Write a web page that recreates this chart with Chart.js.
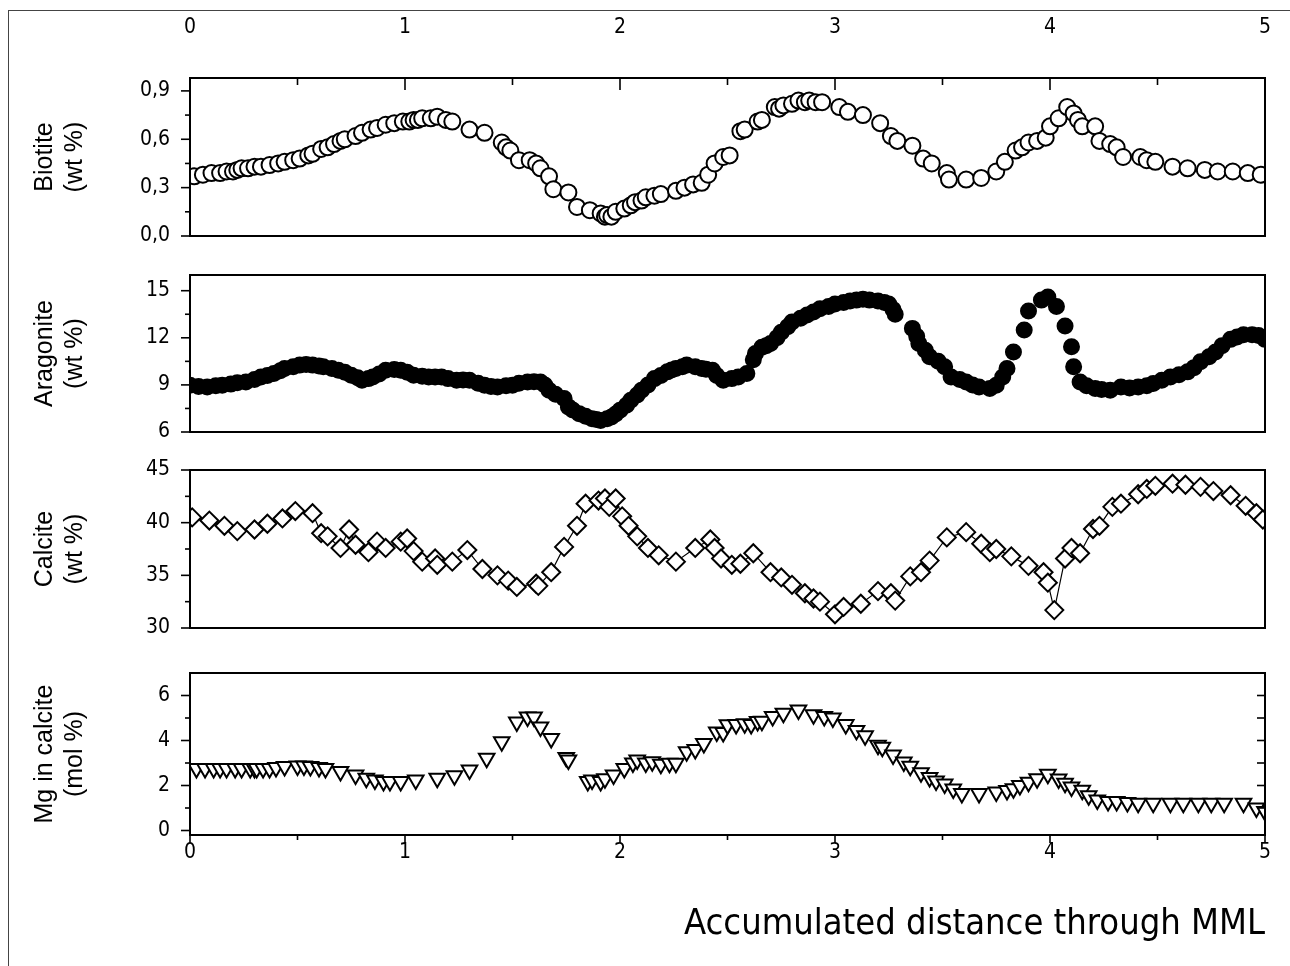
<!DOCTYPE html>
<html>
<head>
<meta charset="utf-8">
<script src="https://cdn.jsdelivr.net/npm/chart.js@4.4.1/dist/chart.umd.min.js"></script>
<style>
  body { margin: 0; background: #fff; }
  #wrap { position: relative; width: 1290px; height: 966px; overflow: hidden; }
  #wrap canvas { position: absolute; left: 0; }
  .outer { position: absolute; left: 8px; top: 10px; width: 1290px; height: 966px;
           border-left: 1.5px solid #444; border-top: 1.5px solid #444; }
</style>
</head>
<body>
<div id="wrap">
  <div class="outer"></div>
  <canvas id="c1" width="1290" height="250" style="top:0px"></canvas>
  <canvas id="c2" width="1290" height="200" style="top:250px"></canvas>
  <canvas id="c3" width="1290" height="195" style="top:450px"></canvas>
  <canvas id="c4" width="1290" height="316" style="top:650px"></canvas>
</div>
<script>
// x axis: accumulated distance
const xTicks = [0, 1, 2, 3, 4, 5];
const xMinor = [0.5, 1.5, 2.5, 3.5, 4.5];

// [distance, value] pairs
const biotite = [[0.02,0.37],[0.06,0.38],[0.10,0.39],[0.14,0.39],[0.17,0.40],[0.20,0.40],[0.22,0.41],[0.24,0.42],[0.27,0.42],[0.30,0.43],[0.33,0.43],[0.37,0.44],[0.41,0.45],[0.44,0.46],[0.48,0.47],[0.51,0.48],[0.55,0.50],[0.57,0.51],[0.61,0.54],[0.64,0.55],[0.67,0.57],[0.70,0.59],[0.72,0.60],[0.77,0.62],[0.80,0.64],[0.84,0.66],[0.87,0.67],[0.91,0.69],[0.95,0.70],[0.99,0.71],[1.02,0.71],[1.04,0.72],[1.06,0.72],[1.08,0.73],[1.12,0.73],[1.15,0.74],[1.19,0.72],[1.22,0.71],[1.30,0.66],[1.37,0.64],[1.45,0.58],[1.47,0.55],[1.49,0.53],[1.53,0.47],[1.58,0.47],[1.61,0.45],[1.63,0.42],[1.67,0.37],[1.69,0.29],[1.76,0.27],[1.80,0.18],[1.86,0.16],[1.91,0.14],[1.93,0.12],[1.94,0.13],[1.96,0.12],[1.98,0.15],[2.02,0.17],[2.05,0.19],[2.07,0.21],[2.10,0.22],[2.12,0.24],[2.16,0.25],[2.19,0.26],[2.26,0.28],[2.30,0.30],[2.34,0.32],[2.38,0.33],[2.41,0.38],[2.44,0.45],[2.48,0.49],[2.51,0.50],[2.56,0.65],[2.58,0.66],[2.64,0.71],[2.66,0.72],[2.72,0.80],[2.74,0.79],[2.76,0.81],[2.80,0.82],[2.83,0.84],[2.86,0.83],[2.88,0.84],[2.91,0.83],[2.94,0.83],[3.02,0.80],[3.06,0.77],[3.13,0.75],[3.21,0.70],[3.26,0.62],[3.29,0.59],[3.36,0.56],[3.41,0.48],[3.45,0.45],[3.52,0.39],[3.53,0.35],[3.61,0.35],[3.68,0.36],[3.75,0.40],[3.79,0.46],[3.84,0.53],[3.87,0.55],[3.90,0.58],[3.94,0.59],[3.98,0.61],[4.00,0.68],[4.04,0.73],[4.08,0.80],[4.11,0.76],[4.13,0.72],[4.15,0.68],[4.21,0.68],[4.23,0.59],[4.28,0.57],[4.31,0.55],[4.34,0.49],[4.42,0.49],[4.45,0.47],[4.49,0.46],[4.57,0.43],[4.64,0.42],[4.72,0.41],[4.78,0.40],[4.85,0.40],[4.92,0.39],[4.98,0.38]];

const aragonite = [[0.00,8.98],[0.04,8.90],[0.08,8.87],[0.12,8.95],[0.15,8.98],[0.19,9.05],[0.22,9.13],[0.26,9.19],[0.30,9.35],[0.33,9.50],[0.36,9.60],[0.39,9.72],[0.42,9.90],[0.44,10.04],[0.48,10.15],[0.51,10.26],[0.54,10.30],[0.57,10.26],[0.60,10.20],[0.62,10.15],[0.66,10.05],[0.69,9.94],[0.72,9.80],[0.75,9.62],[0.78,9.45],[0.80,9.30],[0.83,9.40],[0.85,9.50],[0.88,9.70],[0.91,9.94],[0.95,9.98],[0.98,9.94],[1.01,9.80],[1.04,9.62],[1.08,9.55],[1.11,9.50],[1.14,9.50],[1.17,9.50],[1.20,9.40],[1.24,9.30],[1.27,9.32],[1.30,9.30],[1.34,9.10],[1.37,8.98],[1.40,8.90],[1.43,8.87],[1.47,8.95],[1.50,8.98],[1.53,9.10],[1.57,9.19],[1.60,9.20],[1.63,9.19],[1.65,9.00],[1.67,8.66],[1.70,8.40],[1.74,8.13],[1.76,7.60],[1.78,7.40],[1.81,7.17],[1.84,7.00],[1.87,6.85],[1.89,6.80],[1.91,6.74],[1.94,6.85],[1.96,6.96],[1.98,7.15],[2.00,7.38],[2.03,7.70],[2.05,8.02],[2.08,8.35],[2.10,8.66],[2.13,9.00],[2.16,9.40],[2.19,9.60],[2.22,9.83],[2.24,9.95],[2.26,10.04],[2.29,10.15],[2.31,10.26],[2.35,10.15],[2.38,10.04],[2.40,10.00],[2.43,9.94],[2.45,9.60],[2.48,9.30],[2.52,9.40],[2.55,9.50],[2.59,9.72],[2.62,10.60],[2.63,11.00],[2.66,11.40],[2.68,11.50],[2.70,11.64],[2.73,12.00],[2.75,12.35],[2.78,12.70],[2.80,13.00],[2.84,13.25],[2.87,13.45],[2.90,13.65],[2.93,13.85],[2.97,14.00],[3.00,14.15],[3.04,14.25],[3.07,14.35],[3.10,14.40],[3.13,14.45],[3.16,14.40],[3.20,14.35],[3.23,14.25],[3.25,14.15],[3.27,13.80],[3.28,13.50],[3.36,12.60],[3.38,12.10],[3.39,11.64],[3.42,11.20],[3.44,10.79],[3.48,10.50],[3.51,10.15],[3.54,9.51],[3.58,9.35],[3.61,9.19],[3.64,9.00],[3.67,8.87],[3.72,8.77],[3.75,8.98],[3.78,9.50],[3.80,10.04],[3.83,11.10],[3.88,12.50],[3.90,13.70],[3.96,14.40],[3.99,14.60],[4.03,14.00],[4.07,12.75],[4.10,11.43],[4.11,10.15],[4.14,9.19],[4.17,8.95],[4.21,8.77],[4.24,8.70],[4.28,8.66],[4.33,8.87],[4.37,8.80],[4.41,8.87],[4.45,8.95],[4.48,9.09],[4.52,9.30],[4.56,9.51],[4.60,9.65],[4.64,9.83],[4.67,10.10],[4.70,10.47],[4.74,10.80],[4.77,11.10],[4.80,11.50],[4.84,11.90],[4.87,12.05],[4.90,12.20],[4.94,12.20],[4.97,12.15],[5.00,11.90]];

const calcite = [[0.01,40.5],[0.09,40.2],[0.16,39.7],[0.22,39.2],[0.30,39.35],[0.36,39.9],[0.43,40.4],[0.49,41.1],[0.57,40.9],[0.61,39.0],[0.64,38.7],[0.70,37.6],[0.74,39.35],[0.77,37.9],[0.83,37.2],[0.87,38.2],[0.91,37.6],[0.98,38.2],[1.01,38.5],[1.04,37.3],[1.08,36.3],[1.14,36.6],[1.15,36.0],[1.22,36.3],[1.29,37.4],[1.36,35.6],[1.43,35.0],[1.48,34.5],[1.52,33.9],[1.61,34.2],[1.62,34.0],[1.68,35.3],[1.74,37.7],[1.80,39.7],[1.84,41.8],[1.90,42.1],[1.93,42.3],[1.95,41.5],[1.98,42.3],[2.01,40.6],[2.04,39.7],[2.08,38.7],[2.13,37.6],[2.18,36.9],[2.26,36.3],[2.35,37.6],[2.42,38.4],[2.44,37.6],[2.47,36.6],[2.52,36.0],[2.56,36.1],[2.62,37.1],[2.70,35.3],[2.75,34.8],[2.80,34.1],[2.86,33.3],[2.90,32.8],[2.93,32.5],[3.00,31.3],[3.04,32.0],[3.12,32.3],[3.20,33.5],[3.26,33.3],[3.28,32.6],[3.35,34.9],[3.40,35.3],[3.44,36.4],[3.52,38.6],[3.61,39.1],[3.68,38.0],[3.72,37.2],[3.75,37.5],[3.82,36.8],[3.90,35.9],[3.97,35.3],[3.99,34.3],[4.02,31.7],[4.07,36.6],[4.10,37.6],[4.14,37.1],[4.20,39.4],[4.23,39.7],[4.29,41.5],[4.33,41.8],[4.41,42.7],[4.45,43.2],[4.49,43.5],[4.57,43.7],[4.63,43.6],[4.70,43.4],[4.76,43.0],[4.84,42.6],[4.91,41.6],[4.96,40.9],[4.99,40.3]];

const mgCalcite = [[0.03,2.76],[0.07,2.76],[0.11,2.76],[0.14,2.76],[0.17,2.76],[0.21,2.76],[0.24,2.76],[0.28,2.76],[0.30,2.76],[0.31,2.76],[0.34,2.76],[0.37,2.76],[0.40,2.80],[0.44,2.84],[0.50,2.87],[0.53,2.87],[0.56,2.84],[0.60,2.80],[0.63,2.76],[0.70,2.62],[0.77,2.47],[0.82,2.32],[0.86,2.25],[0.90,2.18],[0.93,2.18],[0.98,2.18],[1.05,2.25],[1.15,2.32],[1.23,2.43],[1.30,2.69],[1.38,3.21],[1.45,3.94],[1.52,4.82],[1.57,5.04],[1.60,5.04],[1.63,4.60],[1.68,4.09],[1.75,3.25],[1.76,3.13],[1.85,2.18],[1.87,2.25],[1.91,2.18],[1.93,2.30],[1.97,2.47],[2.02,2.76],[2.06,3.00],[2.08,3.13],[2.12,3.00],[2.15,3.06],[2.19,2.95],[2.23,2.99],[2.26,2.99],[2.31,3.50],[2.35,3.60],[2.39,3.87],[2.45,4.38],[2.48,4.36],[2.50,4.70],[2.54,4.71],[2.58,4.75],[2.61,4.71],[2.64,4.85],[2.66,4.86],[2.71,5.07],[2.76,5.21],[2.83,5.36],[2.90,5.14],[2.95,5.07],[2.99,5.00],[3.05,4.71],[3.10,4.45],[3.14,4.21],[3.20,3.79],[3.22,3.70],[3.27,3.36],[3.32,3.05],[3.35,2.86],[3.40,2.57],[3.44,2.36],[3.47,2.20],[3.51,2.07],[3.55,1.85],[3.59,1.64],[3.67,1.64],[3.75,1.71],[3.80,1.78],[3.83,1.86],[3.86,2.00],[3.90,2.14],[3.94,2.30],[3.99,2.50],[4.04,2.29],[4.07,2.10],[4.10,1.93],[4.15,1.79],[4.18,1.55],[4.22,1.36],[4.27,1.29],[4.31,1.29],[4.36,1.25],[4.41,1.21],[4.48,1.21],[4.56,1.21],[4.62,1.21],[4.69,1.21],[4.75,1.21],[4.81,1.21],[4.90,1.21],[4.96,1.00],[5.00,0.85]];

const bioTicks = [0, 0.3, 0.6, 0.9], bioMinor = [0.15, 0.45, 0.75];
const aragTicks = [6, 9, 12, 15], aragMinor = [7.5, 10.5, 13.5];
const calTicks = [30, 35, 40, 45], calMinor = [32.5, 37.5, 42.5];
const mgTicks = [0, 2, 4, 6], mgMinor = [1, 3, 5];

const NARROW = "'Liberation Sans Narrow', 'DejaVu Sans Condensed', 'Liberation Sans', Arial, sans-serif";
const SANS = "'Liberation Sans', Arial, sans-serif";
const HIDDEN = 'rgba(0,0,0,0)';

// box around each panel plus the small tick marks
const framePlugin = {
    id: 'frame',
    afterDatasetsDraw(chart, args, opts) {
        const { ctx, chartArea: a, scales } = chart;
        const line = (x1, y1, x2, y2) => {
            ctx.beginPath(); ctx.moveTo(x1, y1); ctx.lineTo(x2, y2); ctx.stroke();
        };
        ctx.save();
        ctx.strokeStyle = '#000';
        ctx.lineWidth = 2;
        ctx.strokeRect(a.left, a.top, a.right - a.left, a.bottom - a.top);
        ctx.lineWidth = 1.6;
        opts.yMajor.forEach(v => { const y = scales.y.getPixelForValue(v); line(a.left - 9, y, a.left, y); });
        opts.yMinor.forEach(v => { const y = scales.y.getPixelForValue(v); line(a.left - 5, y, a.left, y); });
        if (opts.xTop) {
            xTicks.forEach(v => { const x = scales.x.getPixelForValue(v); line(x, a.top, x, a.top + 12); });
            xMinor.forEach(v => { const x = scales.x.getPixelForValue(v); line(x, a.top, x, a.top + 7); });
        }
        if (opts.xBottom) {
            xTicks.forEach(v => { const x = scales.x.getPixelForValue(v); line(x, a.bottom, x, a.bottom + 8); });
            xMinor.forEach(v => { const x = scales.x.getPixelForValue(v); line(x, a.bottom, x, a.bottom + 5); });
        }
        if (opts.right) {
            opts.right.forEach(v => { const y = scales.y.getPixelForValue(v); line(a.right - 8, y, a.right, y); });
        }
        ctx.restore();
    }
};

function makePanel(id, cfg) {
    const bottomAxis = cfg.xMode === 'bottom';
    const topAxis = cfg.xMode === 'top';
    return new Chart(document.getElementById(id), {
        type: 'scatter',
        data: {
            datasets: [{
                data: cfg.data.map(p => ({ x: p[0], y: p[1] })),
                showLine: !!cfg.line,
                borderColor: '#000',
                borderWidth: 1.2,
                pointStyle: cfg.pointStyle,
                rotation: cfg.rotation || 0,
                pointRadius: cfg.radius,
                pointBackgroundColor: cfg.fill,
                pointBorderColor: '#000',
                pointBorderWidth: 2
            }]
        },
        plugins: [framePlugin],
        options: {
            responsive: false,
            animation: false,
            layout: { padding: { left: 0, right: 25, top: cfg.padTop, bottom: cfg.padBottom } },
            plugins: {
                legend: { display: false },
                tooltip: { enabled: false },
                frame: { yMajor: cfg.yTicks, yMinor: cfg.yMinor, xTop: topAxis, xBottom: bottomAxis, right: cfg.right }
            },
            scales: {
                x: {
                    type: 'linear',
                    min: 0, max: 5,
                    display: topAxis || bottomAxis,
                    position: topAxis ? 'top' : 'bottom',
                    afterBuildTicks: s => { s.ticks = xTicks.map(v => ({ value: v })); },
                    afterFit: s => { if (cfg.xHeight) s.height = cfg.xHeight; },
                    // invisible tick marks only to push the labels away from the box
                    grid: { drawOnChartArea: false, drawTicks: true, tickLength: topAxis ? 38 : 5, color: HIDDEN, tickColor: HIDDEN },
                    border: { display: false },
                    ticks: {
                        color: '#000',
                        padding: 0,
                        font: { family: NARROW, size: 21 }
                    },
                    title: {
                        display: bottomAxis,
                        text: 'Accumulated distance through MML',
                        align: 'end',
                        color: '#000',
                        font: { family: NARROW, size: 36, lineHeight: 1.2 },
                        padding: { top: 0, bottom: 20 }
                    }
                },
                y: {
                    type: 'linear',
                    min: cfg.yMin, max: cfg.yMax,
                    afterBuildTicks: s => { s.ticks = cfg.yTicks.map(v => ({ value: v })); },
                    afterFit: s => { s.width = 190; },
                    grid: { drawOnChartArea: false, drawTicks: true, tickLength: 20, color: HIDDEN, tickColor: HIDDEN },
                    border: { display: false },
                    ticks: {
                        color: '#000',
                        padding: 0,
                        font: { family: NARROW, size: 21 },
                        callback: cfg.fmt
                    },
                    title: {
                        display: true,
                        text: cfg.title,
                        color: '#000',
                        font: { family: SANS, size: 25, lineHeight: 1.2 },
                        padding: { top: 30, bottom: 0 }
                    }
                }
            }
        }
    });
}

makePanel('c1', {
    data: biotite, pointStyle: 'circle', radius: 8, fill: '#fff',
    yMin: 0, yMax: 0.98, yTicks: bioTicks, yMinor: bioMinor,
    fmt: v => v.toFixed(1).replace('.', ','),
    title: ['Biotite', '(wt %)'],
    xMode: 'top', xHeight: 78, padTop: 0, padBottom: 14
});

makePanel('c2', {
    data: aragonite, pointStyle: 'circle', radius: 7.5, fill: '#000',
    yMin: 6, yMax: 16, yTicks: aragTicks, yMinor: aragMinor,
    fmt: v => String(v),
    title: ['Aragonite', '(wt %)'],
    xMode: 'none', padTop: 25, padBottom: 18
});

makePanel('c3', {
    data: calcite, pointStyle: 'rectRot', radius: 9, fill: '#fff', line: true,
    yMin: 30, yMax: 45, yTicks: calTicks, yMinor: calMinor,
    fmt: v => String(v),
    title: ['Calcite', '(wt %)'],
    xMode: 'none', padTop: 20, padBottom: 17
});

makePanel('c4', {
    data: mgCalcite, pointStyle: 'triangle', rotation: 180, radius: 9, fill: '#fff',
    yMin: -0.2, yMax: 7, yTicks: mgTicks, yMinor: mgMinor, right: [1, 2, 3, 4, 5, 6],
    fmt: v => String(v),
    title: ['Mg in calcite', '(mol %)'],
    xMode: 'bottom', xHeight: 131, padTop: 23, padBottom: 0
});
</script>
</body>
</html>
